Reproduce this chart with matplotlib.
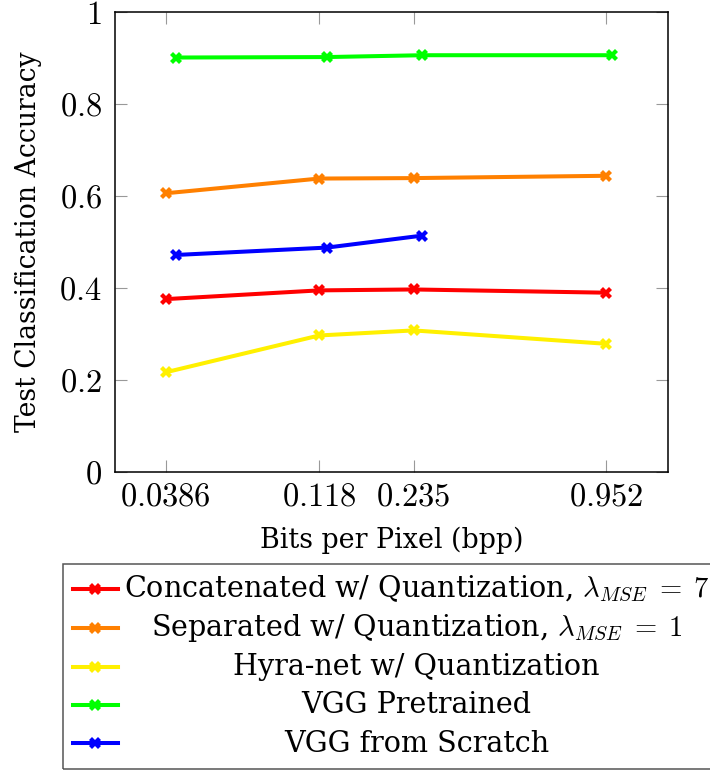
import numpy as np
import matplotlib
matplotlib.use('Agg')
import matplotlib.pyplot as plt
from matplotlib.lines import Line2D
from matplotlib.patches import Rectangle

plt.rcParams['font.family'] = ['DejaVu Serif']
plt.rcParams['mathtext.fontset'] = 'cm'

# bits per pixel for the quantized models, and for the VGG baselines
bpp = [0.0386, 0.118, 0.235, 0.952]
bpp_vgg = [0.0417, 0.125, 0.25, 1.0]

acc_concat = [0.375, 0.394, 0.396, 0.389]
acc_separated = [0.605, 0.637, 0.638, 0.643]
acc_hydra = [0.216, 0.296, 0.307, 0.278]
acc_vgg_pre = [0.900, 0.901, 0.905, 0.905]
acc_vgg_scratch = [0.471, 0.487, 0.513]

labels = [
    r'Concatenated w/ Quantization, $\lambda_{MSE}\;=\;7$',
    r'Separated w/ Quantization, $\lambda_{MSE}\;=\;1$',
    'Hyra-net w/ Quantization',
    'VGG Pretrained',
    'VGG from Scratch',
]
colors = ['#ff0000', '#ff8000', '#fff000', '#00ff00', '#0000ff']

xtick_labels = ['$0.0386$', '$0.118$', '$0.235$', '$0.952$']
yticks = [0, 0.2, 0.4, 0.6, 0.8, 1]
ytick_labels = ['$0$', '$0.2$', '$0.4$', '$0.6$', '$0.8$', '$1$']

W, H = 710, 770
fig = plt.figure(figsize=(W / 100, H / 100), dpi=100)
ax = fig.add_axes([115 / W, 1 - 471.7 / H, (667.7 - 115) / W, (471.7 - 11.5) / H])

series = [
    (bpp, acc_concat),
    (bpp, acc_separated),
    (bpp, acc_hydra),
    (bpp_vgg, acc_vgg_pre),
    (bpp_vgg[:3], acc_vgg_scratch),
]
for (xs, ys), c in zip(series, colors):
    ax.plot(xs, ys, color=c, lw=2.9, marker='X', ms=8.5, mew=0, zorder=3)

ax.set_xscale('log')
ax.set_xlim(0.02668, 1.4955)
ax.set_ylim(0, 1)
ax.set_xticks(bpp)
ax.set_xticklabels(xtick_labels)
ax.xaxis.set_minor_locator(matplotlib.ticker.NullLocator())
ax.set_yticks(yticks)
ax.set_yticklabels(ytick_labels)
ax.tick_params(axis='both', direction='in', length=8.4, width=0.8, color='#999999',
               labelsize=23.4, top=True, right=True)
ax.tick_params(axis='y', pad=9.5)
ax.tick_params(axis='x', pad=7)
for s in ax.spines.values():
    s.set_linewidth(1.1)

ax.set_xlabel('Bits per Pixel (bpp)', fontsize=19.4)
ax.xaxis.label.set_va('baseline')
ax.xaxis.set_label_coords(0.5, -(548.3 - 471.7) / 460.2)
ax.set_ylabel('Test Classification Accuracy', fontsize=19.2)
ax.yaxis.label.set_va('baseline')
ax.yaxis.set_label_coords(-(115 - 36.5) / 552.7, 0.5)

# legend box drawn by hand so that the entries can be centred
fig.patches.append(Rectangle((63 / W, 1 - 769 / H), (715 - 63) / W, (769 - 564) / H,
                             transform=fig.transFigure, fill=False, ec='#555555', lw=1.1))
row_y = [589, 627.7, 666.7, 705, 743.3]
for lab, c, ry in zip(labels, colors, row_y):
    fig.lines.append(Line2D([73 / W, 118 / W], [1 - ry / H, 1 - ry / H], transform=fig.transFigure,
                            color=c, lw=2.9))
    fig.lines.append(Line2D([95.5 / W], [1 - ry / H], transform=fig.transFigure,
                            color=c, marker='X', ms=8.5, mew=0))
    fig.text(416.5 / W, 1 - (ry + 8.3) / H, lab, ha='center', va='baseline', fontsize=20.6)

fig.savefig('out.png', dpi=100)
